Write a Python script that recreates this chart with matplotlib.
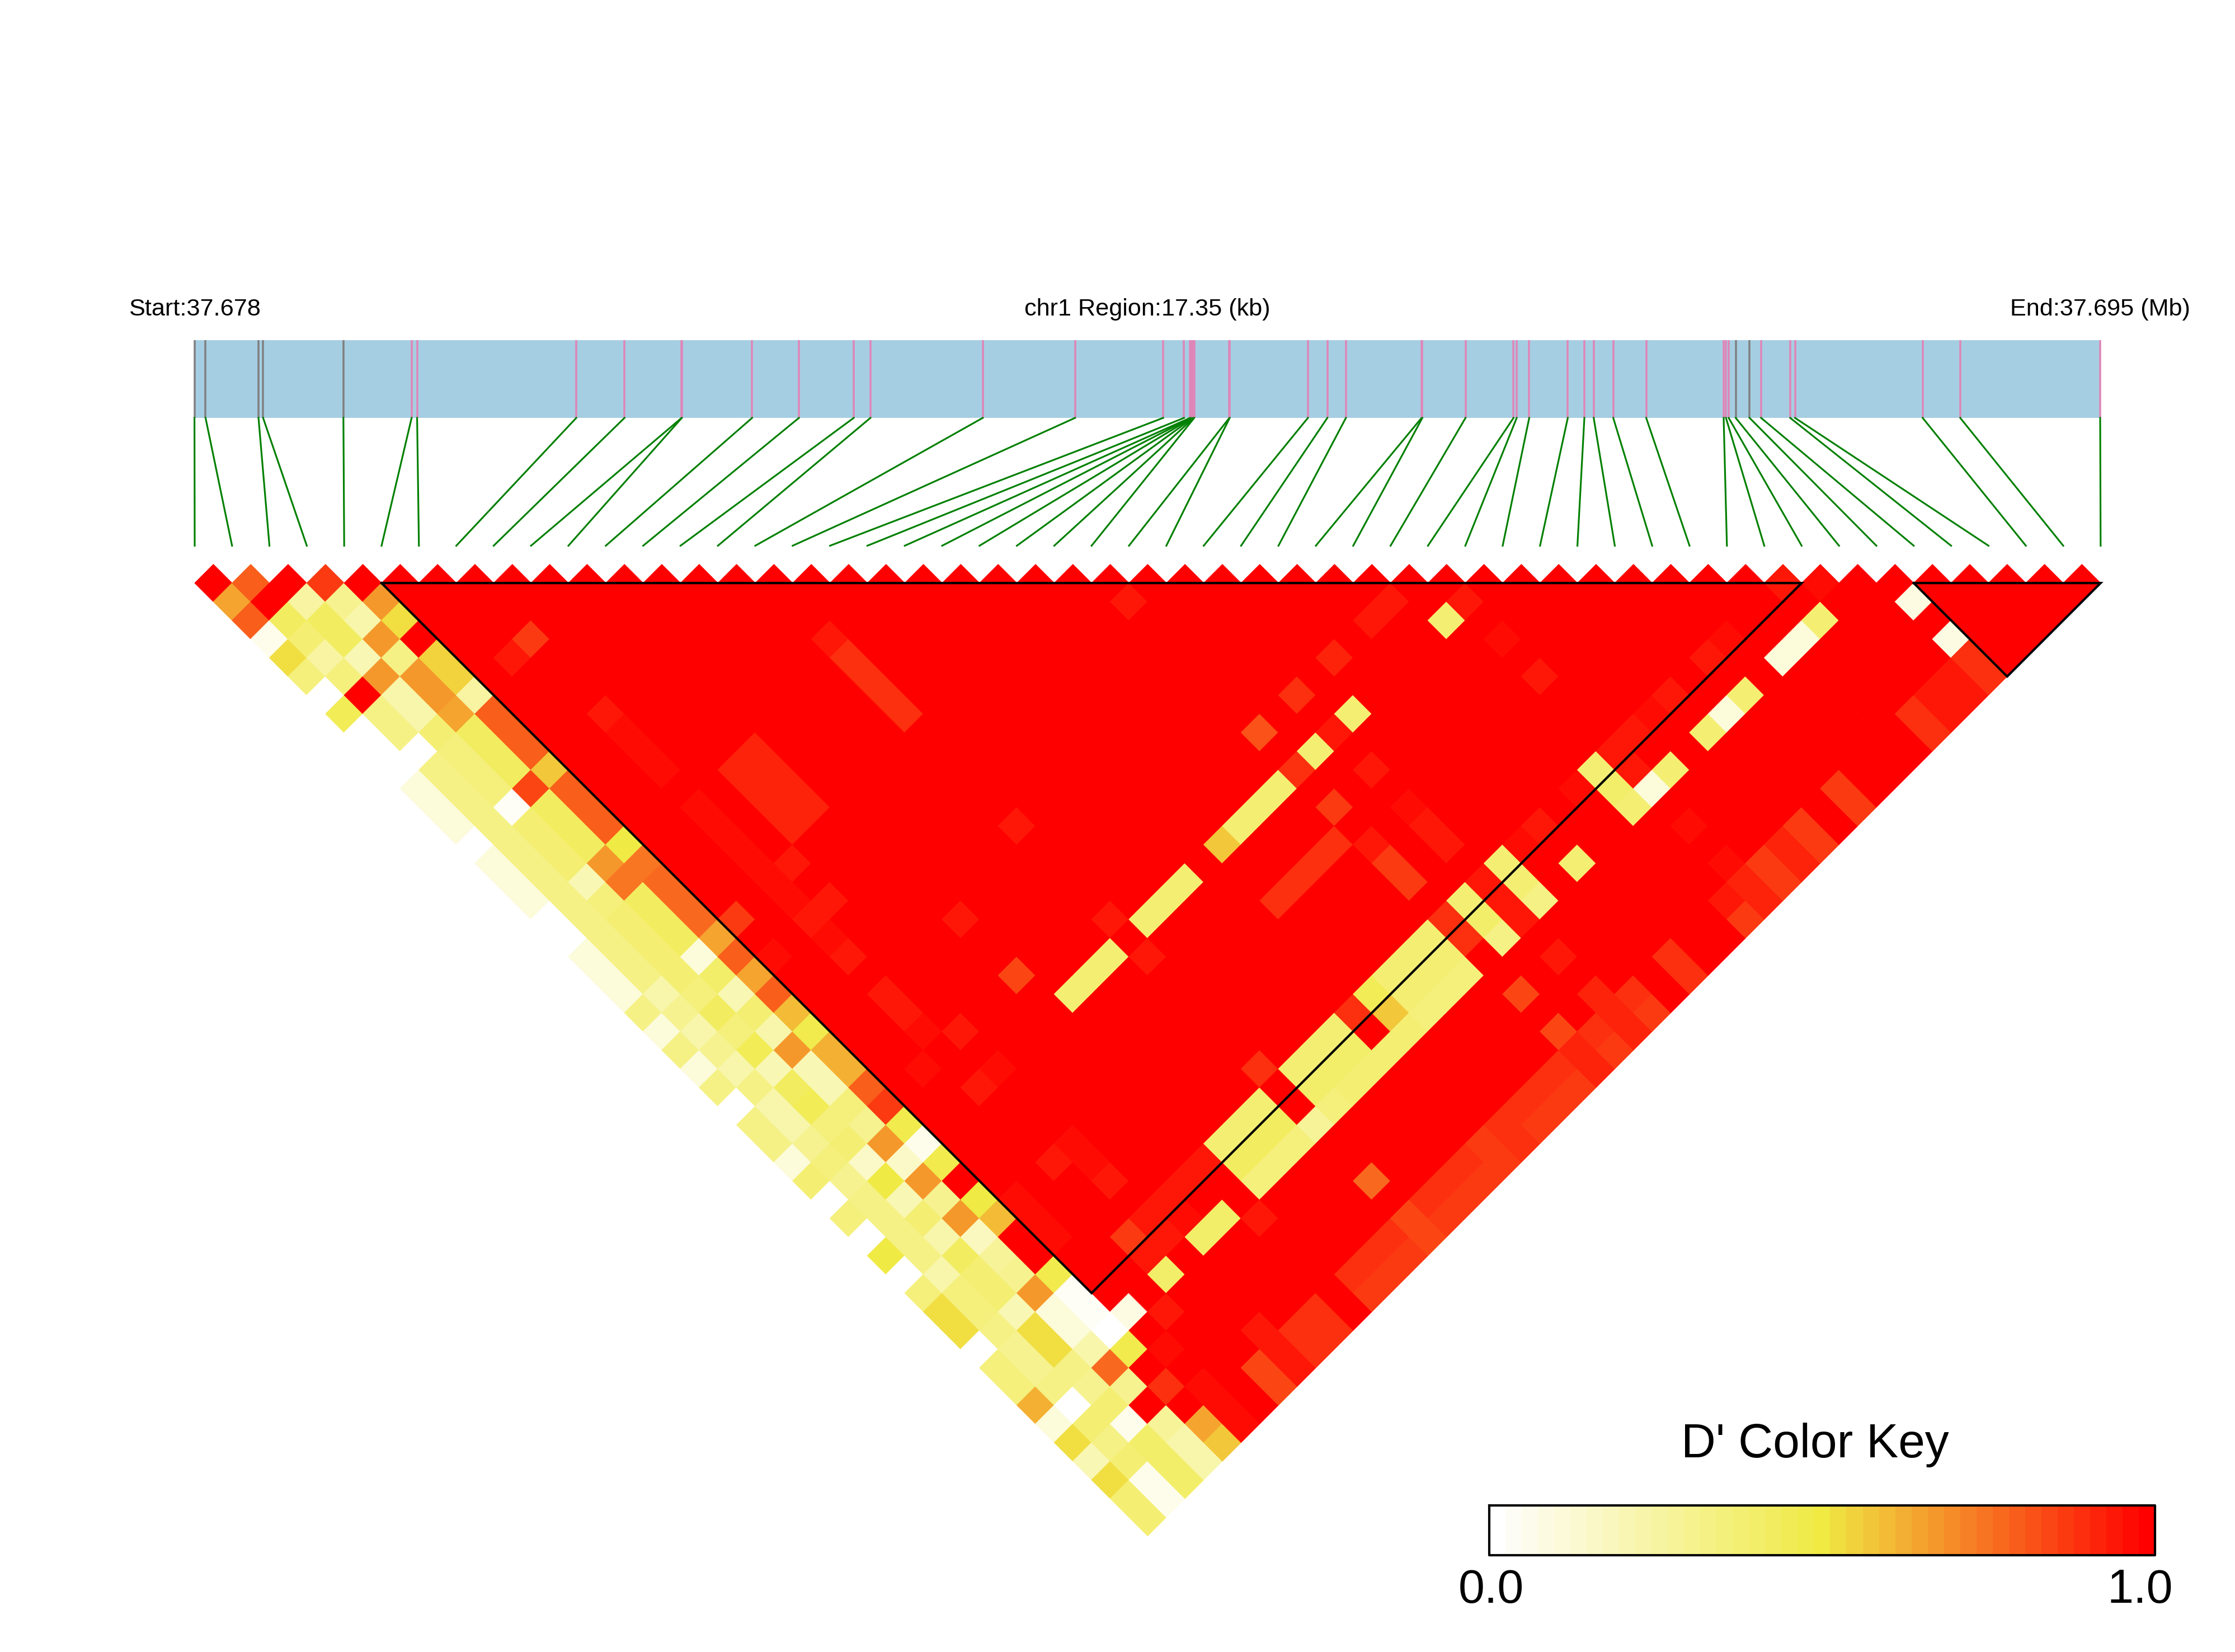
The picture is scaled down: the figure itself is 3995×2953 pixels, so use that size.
import numpy as np
import matplotlib
matplotlib.use("Agg")
import matplotlib.pyplot as plt
from matplotlib.collections import PolyCollection
from matplotlib.colors import LinearSegmentedColormap

plt.rcParams['font.family'] = ['Liberation Sans', 'DejaVu Sans']

# snp position inside the region, kb from the start
region_kb = 17.35
snp_kb = [0, .101, .583, .625, 1.356, 1.977, 2.027, 3.476, 3.915, 4.435, 4.437, 5.077, 5.503,
          6.002, 6.154, 7.177, 8.017, 8.819, 9.009, 9.064, 9.073, 9.081, 9.090, 9.098, 9.102,
          9.422, 9.425, 10.137, 10.314, 10.483, 11.172, 11.179, 11.572, 12.009, 12.038, 12.152,
          12.503, 12.654, 12.739, 12.917, 13.217, 13.922, 13.943, 13.968, 14.032, 14.158,
          14.263, 14.528, 14.572, 15.734, 16.076, 17.35]
gray_snps = [0, 1, 2, 3, 4, 44, 45]

# D' of the five left columns, first entry is the pair next to the snp
col0 = [1, .65, .8, .05, .53, .35, 0, .46, 0, 0,
        .02, .12, .12, .12, 0, .12, .12, .12, 0, .01,
        .1, .1, .1, .33, .1, .33, .12, .33, 0, .33,
        .33, .1, .37, 0, .35, 0, .5, 0, .36, .52,
        .52, 0, .36, .36, .62, .12, .52, .2, .52, .37, .37]
col1 = [.8, 1, .42, .37, .25, .36, 1, .33, .33, 0,
        .32, .32, .32, .32, .32, .32, .32, .33, .33, .33,
        .33, .33, .22, .3, .22, .3, .22, .32, .22, .22,
        .3, .35, .3, .32, .32, .33, .33, .22, .36, .36,
        .34, .3, .3, .33, .02, .37, .32, .37, .05, .05]
col2 = [1, .25, .42, .42, .2, .68, .23, .23, .37, .35,
        .35, .35, .03, .37, .37, .37, .2, .35, .37, .37,
        .37, .37, .35, .42, .36, .45, .2, .43, .46, .35,
        .37, .15, .5, .2, .38, .22, .42, .37, .37, .2,
        .52, .52, .33, .3, .38, .05, .4, .4, .4]
col3 = [.87, .3, .22, .68, .32, .68, .68, .64, .42, .42,
        .42, .85, .42, .42, .42, .68, .74, .42, .42, .42,
        .12, .4, .2, .38, .22, .68, .2, .2, .36, .3,
        .68, .15, .68, .3, .68, .18, .28, .3, .68, .12,
        .12, .22, .76, .3, 1, .28, .22, .22]
col4 = [1, .68, .53, 1, .54, .54, .25, .8, .8, .8,
        .58, .8, .8, .8, .5, .74, .77, .77, .77, .64,
        .8, .64, .8, .6, .48, .61, .61, .8, .87, .47,
        .07, .47, 1, .5, .6, 1, 1, .48, .03, .04,
        0, .47, 1, .88, 1, .64, .58]

# everything else is 1.0 except these (i, j, D')
other_pairs = [
    (42, 42, .93), (43, 43, .97), (7, 8, .98), (7, 9, .98), (7, 10, .87), (6, 10, .95),
    (7, 11, .98), (7, 12, .98), (7, 13, .98), (7, 14, .93), (7, 15, .97), (7, 16, .97),
    (7, 17, .97), (9, 19, .92), (10, 19, .92), (10, 20, .92), (10, 21, .92), (10, 22, .92),
    (9, 20, .92), (9, 21, .92), (9, 22, .92), (7, 19, .97), (7, 20, .97), (7, 21, .97),
    (7, 22, .97), (8, 23, .93), (7, 23, .96), (7, 24, .97), (8, 25, .94), (7, 25, .95),
    (7, 26, .97), (7, 27, .95), (5, 23, .87), (5, 25, .97), (11, 29, .93), (7, 29, .95),
    (7, 30, .95), (6, 29, .98), (7, 31, .97), (8, 32, .95), (6, 32, .96), (5, 32, .98),
    (7, 34, .95), (8, 34, .97), (5, 34, .98), (5, 36, .99), (11, 32, .85), (5, 38, .96),
    (5, 39, .96), (5, 40, .96), (15, 18, .93), (15, 19, .88), (15, 20, .88), (15, 21, .88),
    (15, 22, .88), (15, 28, .93), (24, 25, .95), (24, 32, .82), (20, 34, .57), (21, 34, .38),
    (22, 34, .38), (23, 34, .38), (24, 34, .88), (25, 34, .38), (26, 34, .93), (27, 34, .38),
    (26, 32, .88), (28, 32, .92), (18, 34, .38), (17, 34, .38), (16, 34, .38), (15, 33, .93),
    (15, 35, .93), (14, 34, .38), (13, 34, .38), (12, 34, .38), (26, 36, .93), (24, 36, .87),
    (31, 32, .93), (30, 32, .93), (32, 34, .38), (33, 34, .93), (33, 36, .97), (33, 38, .95),
    (33, 39, .98), (33, 40, .98), (36, 42, .95), (35, 42, .97), (34, 42, .93), (33, 42, .93),
    (39, 42, .97), (38, 42, .95), (32, 42, .38), (32, 43, .4), (32, 44, .38), (33, 43, .95),
    (31, 42, .97), (34, 44, .38), (33, 44, .1), (38, 44, .38), (37, 44, .1), (36, 44, .38),
    (42, 44, .38), (41, 44, .1), (40, 44, .1), (45, 46, .08), (45, 48, .08), (45, 49, .88),
    (45, 50, .88), (44, 49, .93), (44, 50, .93), (43, 49, .93), (43, 50, .93), (42, 49, .88),
    (42, 50, .88), (38, 49, .87), (38, 50, .87), (36, 49, .87), (36, 50, .87), (35, 49, .92),
    (35, 50, .92), (34, 49, .87), (34, 50, .87), (33, 49, .92), (33, 50, .92), (33, 48, .97),
    (32, 49, .93), (32, 50, .87), (33, 46, .97), (29, 42, .93), (28, 42, .97), (27, 42, .38),
    (29, 44, .38), (26, 42, .93), (27, 43, .38), (27, 44, .33), (25, 42, .38), (24, 42, .88),
    (25, 43, .4), (26, 43, .93), (26, 44, .93), (25, 44, .33), (24, 43, .88),
    (23, 42, .37), (22, 42, .37), (21, 42, .37), (20, 42, .46), (19, 42, .9), (18, 42, .38),
    (17, 42, .38), (16, 42, .38), (14, 42, .38), (13, 42, .38), (12, 42, .38), (11, 42, .93),
    (10, 42, .93), (9, 42, .93), (8, 42, .95), (7, 42, .87),
    (23, 43, .37), (22, 43, .37), (21, 43, .37), (20, 43, .57), (18, 43, .4), (17, 43, .4),
    (16, 43, .4), (14, 43, .42), (13, 43, .42), (12, 43, .42), (9, 43, .97), (8, 43, .93),
    (7, 43, .93),
    (23, 44, .36), (22, 44, .36), (21, 44, .36), (20, 44, .38), (19, 44, .38), (18, 44, .37),
    (17, 44, .37), (16, 44, .36), (15, 44, .28), (14, 44, .36), (13, 44, .36), (12, 44, .36),
    (10, 44, .4), (9, 44, .4), (7, 44, .4), (5, 44, .08),
    (15, 41, .9), (11, 45, .93), (15, 47, .76), (24, 46, .85), (24, 48, .85), (26, 46, .93),
    (26, 48, .92), (26, 49, .92), (26, 50, .92), (27, 49, .88), (27, 50, .87), (29, 49, .88),
    (29, 50, .88), (25, 49, .9), (25, 50, .87), (24, 49, .92), (24, 50, .92), (23, 49, .9),
    (22, 49, .9), (21, 49, .9), (20, 49, .9), (23, 50, .87), (22, 50, .87), (21, 50, .87),
    (20, 50, .9), (19, 49, .87), (19, 50, .87), (18, 50, .87), (17, 50, .87), (16, 50, .87),
    (18, 49, .9), (17, 49, .9), (16, 49, .9), (15, 49, .85), (15, 50, .85), (14, 50, .87),
    (13, 50, .87), (12, 50, .87), (14, 49, .9), (13, 49, .9), (12, 49, .9), (10, 49, .88),
    (9, 49, .88), (10, 50, .88), (9, 50, .88), (8, 48, .93), (8, 49, .93), (8, 50, .93),
    (7, 49, .85), (7, 50, .85), (5, 48, .96), (5, 49, .96), (5, 50, .96), (6, 45, .93),
    (5, 46, .97), (8, 46, .98), (8, 36, .98), (7, 37, .98), (7, 38, .95), (8, 38, .97),
    (8, 39, .97), (8, 40, .93), (26, 38, .97), (26, 39, .93), (26, 40, .93), (24, 38, .93),
    (24, 39, .87), (24, 40, .87), (23, 37, .9), (22, 37, .9), (21, 37, .9), (20, 37, .9),
]

# haplotype blocks, first and last snp edge
block_start = [5, 46]
block_end = [43, 51]

title_left = "Start:37.678"
title_mid = "chr1 Region:17.35 (kb)"
title_right = "End:37.695 (Mb)"
key_title = "D' Color Key"
key_labels = ["0.0", "1.0"]
n_key_bins = 41

n_cells = 51
dprime = np.ones((n_cells, n_cells))
for i, col in enumerate([col0, col1, col2, col3, col4]):
    for k, v in enumerate(col):
        dprime[i, i + k] = v
for i, j, v in other_pairs:
    dprime[i, j] = v

# layout in pixels of the final picture
left = 348.0
half = 33.4
top_y = 1042.2
region_x0, region_x1 = 347.6, 3754.0
bar_top, bar_bottom = 607.5, 747.0
link_bottom = 975.5

cmap = LinearSegmentedColormap.from_list("ld", ["#FFFFFF", "#F0EA44", "#FF0000"], N=n_key_bins)

fig = plt.figure(figsize=(3995 / 300, 2953 / 300), dpi=300)
ax = fig.add_axes([0, 0, 1, 1])
ax.set_xlim(0, 3995)
ax.set_ylim(2953, 0)
ax.axis("off")

# gene bar and snp links
ax.fill_between([region_x0, region_x1], bar_top, bar_bottom, color="#A6CEE3", lw=0)
for k, kb in enumerate(snp_kb):
    gene_x = region_x0 + kb / region_kb * (region_x1 - region_x0)
    snp_x = left + 2 * half * k
    ax.plot([gene_x, gene_x], [bar_top, bar_bottom], lw=0.85, solid_capstyle="butt",
            color="#808080" if k in gray_snps else "#DF86B8")
    ax.plot([gene_x, snp_x], [bar_bottom, link_bottom], lw=0.75, color="#008000")

# heatmap diamonds
polys = []
vals = []
for i in range(n_cells):
    for j in range(i, n_cells):
        cx = left + half * (i + j + 1)
        cy = top_y + half * (j - i)
        polys.append([(cx - half, cy), (cx, cy - half), (cx + half, cy), (cx, cy + half)])
        vals.append(dprime[i, j])
cells = PolyCollection(polys, array=np.array(vals), cmap=cmap, clim=(0, 1),
                       edgecolors="face", linewidths=0.25)
ax.add_collection(cells)

# block outlines
for s, e in zip(block_start, block_end):
    x0 = left + 2 * half * s
    x1 = left + 2 * half * e
    depth = half * (e - s)
    ax.plot([x0, x1, (x0 + x1) / 2, x0], [top_y, top_y, top_y + depth, top_y],
            color="black", lw=1.0, solid_joinstyle="miter")

# titles
ax.text(region_x0, 564, title_left, ha="center", va="baseline", fontsize=10.4)
ax.text((region_x0 + region_x1) / 2, 564, title_mid, ha="center", va="baseline", fontsize=10.4)
ax.text(region_x1, 564, title_right, ha="center", va="baseline", fontsize=10.4)

# colour key
key_vals = (np.arange(n_key_bins) + 0.5) / n_key_bins
ax.imshow(key_vals[np.newaxis, :], cmap=cmap, vmin=0, vmax=1, aspect="auto",
          extent=(2662, 3852, 2780, 2691), interpolation="nearest")
ax.plot([2662, 3852, 3852, 2662, 2662], [2691, 2691, 2780, 2780, 2691], color="black", lw=1.0)
ax.set_xlim(0, 3995)
ax.set_ylim(2953, 0)
ax.text(3244, 2605, key_title, ha="center", va="baseline", fontsize=20.6)
ax.text(2665, 2865, key_labels[0], ha="center", va="baseline", fontsize=20.3)
ax.text(3825, 2865, key_labels[1], ha="center", va="baseline", fontsize=20.3)

fig.savefig("out.png", dpi=300, facecolor="white")
